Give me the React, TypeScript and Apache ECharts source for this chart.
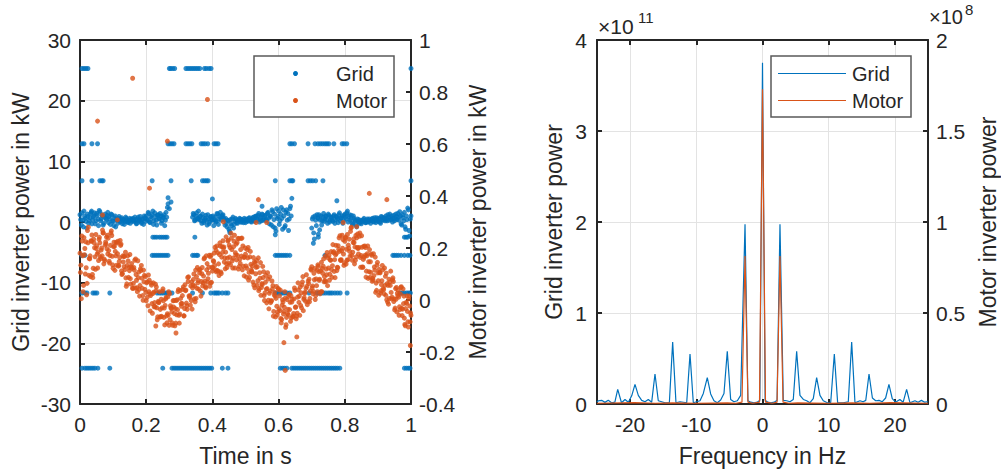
import React, { useEffect, useRef } from "react";
import * as echarts from "echarts";

// ---------------- data: left plot (time domain) ----------------
const TIME_STEP = 0.004; // s, spacing of each interleaved sample set
const timeTicks = [0, 0.2, 0.4, 0.6, 0.8, 1];

// Motor inverter power in kW; three interleaved sample sets
// set A at t = i*TIME_STEP, set B at t = (i+1/3)*TIME_STEP, set C at t = (i+2/3)*TIME_STEP
const motorPowerA = [
  0.18, 0.005, 0.17, 0.24, 0.10, 0.02, 0.22, 0.16, 0.09, 0.25,
  0.122, 0.201, 0.252, 0.177, 0.152, 0.22, 0.192, 0.269, 0.139, 0.211,
  0.242, 0.177, 0.149, 0.21, 0.248, 0.122, 0.206, 0.17, 0.219, 0.13,
  0.163, 0.215, 0.102, 0.167, 0.117, 0.053, 0.17, 0.125, 0.082, 0.14,
  0.045, 0.115, 0.158, 0.047, 0.086, 0.015, 0.113, 0.045, 0.115, 0.041,
  -0.003, 0.07, 0.032, -0.042, 0.057, 0.025, -0.026, 0.061, -0.03, -0.005,
  0.032, -0.065, -0.03, -0.003, -0.096, 0.01, -0.053, 0.032, -0.076, -0.03,
  -0.097, -0.002, -0.033, -0.057, 0.032, -0.089, 0.006, -0.013, 0.05, -0.033,
  0.038, -0.036, 0.089, 0.016, -0.002, 0.047, 0.1, -0.007, 0.09, 0.066,
  0.116, 0.034, 0.101, 0.066, 0.162, 0.047, 0.14, 0.103, 0.053, 0.172,
  0.111, 0.148, 0.203, 0.108, 0.182, 0.094, 0.207, 0.165, 0.228, 0.146,
  0.184, 0.125, 0.23, 0.165, 0.257, 0.151, 0.205, 0.123, 0.215, 0.171,
  0.236, 0.141, 0.169, 0.208, 0.093, 0.176, 0.122, 0.202, 0.087, 0.137,
  0.107, 0.163, 0.047, 0.126, 0.128, 0.036, 0.084, 0.048, 0.129, 0.017,
  0.068, -0.011, 0.08, 0.026, -0.01, 0.073, -0.062, 0.029, 0.006, -0.057,
  0.04, -0.041, -0.088, 0.001, -0.044, 0.007, -0.067, -0.036, 0.021, -0.082,
  -0.008, -0.062, 0.046, -0.027, -0.051, 0.039, -0.059, 0.028, 0.07, 0.003,
  0.03, 0.097, -0.007, 0.08, 0.035, 0.128, 0.024, 0.078, 0.017, 0.115,
  0.13, 0.08, 0.032, 0.121, 0.158, 0.074, 0.119, 0.055, 0.171, 0.154,
  0.117, 0.213, 0.11, 0.174, 0.113, 0.209, 0.187, 0.152, 0.249, 0.177,
  0.226, 0.138, 0.252, 0.199, 0.169, 0.28, 0.184, 0.221, 0.153, 0.239,
  0.198, 0.245, 0.126, 0.203, 0.156, 0.208, 0.088, 0.178, 0.147, 0.087,
  0.177, 0.083, 0.094, 0.165, 0.037, 0.104, 0.118, 0.027, 0.074, 0.044,
  0.123, 0.018, 0.063, -0.016, 0.069, 0.029, 0.078, -0.006, -0.031, 0.048,
  0.017, -0.059, 0.023, -0.032, 0.043, -0.07, -0.033, 0.016, -0.104, -0.023,
  -0.059,
];
const motorPowerB = [
  0.106, 0.246, 0.032, 0.174, 0.224, 0.064, 0.28, 0.158, 0.228, 0.098,
  0.234, 0.166, 0.198, 0.123, 0.233, 0.166, 0.2, 0.258, 0.157, 0.223,
  0.197, 0.238, 0.142, 0.258, 0.168, 0.205, 0.114, 0.222, 0.178, 0.133,
  0.229, 0.112, 0.17, 0.128, 0.184, 0.062, 0.15, 0.113, 0.061, 0.122,
  0.064, 0.153, 0.098, 0.032, 0.107, 0.056, 0.133, 0.017, 0.07, 0.09,
  0.066, -0.022, 0.076, 0.017, -0.014, 0.066, -0.01, 0.035, -0.076, -0.01,
  -0.065, 0.003, 0.034, -0.067, -0.021, -0.061, 0.012, -0.097, -0.022, -0.046,
  -0.003, -0.052, -0.089, 0.001, 0.04, -0.054, -0.014, 0.017, -0.061, 0.059,
  -0.012, 0.087, 0.016, -0.02, 0.07, 0.058, 0.004, 0.115, 0.045, 0.075,
  0.104, 0.015, 0.125, 0.092, 0.072, 0.17, 0.069, 0.126, 0.166, 0.068,
  0.124, 0.18, 0.116, 0.208, 0.111, 0.175, 0.108, 0.205, 0.199, 0.162,
  0.243, 0.161, 0.142, 0.202, 0.238, 0.123, 0.226, 0.182, 0.154, 0.237,
  0.129, 0.194, 0.238, 0.13, 0.165, 0.131, 0.194, 0.077, 0.166, 0.117,
  0.131, 0.057, 0.142, 0.152, 0.074, 0.044, 0.144, 0.063, 0.086, -0.002,
  0.095, 0.044, -0.001, 0.089, -0.004, 0.043, -0.044, 0.015, 0.052, -0.046,
  -0.034, 0.038, -0.075, -0.008, -0.028, -0.105, 0.002, -0.057, -0.037, 0.017,
  0.003, -0.052, 0.037, -0.072, 0.011, -0.009, 0.05, -0.03, 0.09, 0.009,
  -0.005, 0.052, 0.072, -0.007, 0.119, 0.047, 0.033, 0.121, 0.081, 0.032,
  0.109, 0.024, 0.145, 0.103, 0.07, 0.169, 0.097, 0.162, 0.076, 0.153,
  0.087, 0.182, 0.155, 0.21, 0.126, 0.195, 0.247, 0.155, 0.199, 0.133,
  0.239, 0.195, 0.155, 0.234, 0.264, 0.171, 0.221, 0.139, 0.248, 0.202,
  0.177, 0.258, 0.171, 0.127, 0.206, 0.172, 0.111, 0.208, 0.109, 0.147,
  0.172, 0.077, 0.127, 0.029, 0.134, 0.074, 0.106, 0.035, 0.133, 0.04,
  0.056, 0.103, -0.008, 0.08, 0.056, 0.004, 0.085, 0.004, 0.044, -0.046,
  0.037, -0.026, 0.048, -0.06, -0.014, -0.094, -0.009, -0.044, 0.004, -0.084,
];
const motorPowerC = [
  0.134, 0.227, 0.056, 0.198, 0.124, 0.267, 0.095, 0.17, 0.226, 0.086,
  0.22, 0.118, 0.209, 0.183, 0.241, 0.159, 0.17, 0.258, 0.151, 0.216,
  0.249, 0.19, 0.171, 0.266, 0.135, 0.222, 0.187, 0.134, 0.226, 0.148,
  0.21, 0.098, 0.146, 0.168, 0.085, 0.133, 0.087, 0.175, 0.127, 0.045,
  0.125, 0.046, 0.076, 0.151, 0.041, 0.12, 0.084, -0.001, 0.095, 0.029,
  0.01, 0.096, 0.023, 0.065, -0.051, 0.03, -0.026, 0.05, -0.065, -0.009,
  -0.036, -0.063, 0.043, -0.031, 0.004, -0.088, -0.058, 0.024, -0.031, -0.088,
  -0.027, -0.099, -0.002, -0.037, -0.059, 0.036, -0.024, 0.041, -0.061, 0.036,
  -0.022, 0.071, 0.01, 0.054, -0.035, 0.079, 0.054, 0.006, 0.125, 0.042,
  0.117, 0.071, 0.054, 0.158, 0.052, 0.116, 0.082, 0.172, 0.066, 0.126,
  0.151, 0.133, 0.192, 0.113, 0.139, 0.22, 0.102, 0.183, 0.204, 0.12,
  0.139, 0.227, 0.211, 0.136, 0.194, 0.161, 0.249, 0.173, 0.221, 0.119,
  0.157, 0.237, 0.116, 0.164, 0.2, 0.088, 0.162, 0.106, 0.187, 0.11,
  0.069, 0.146, 0.101, 0.057, 0.162, 0.105, 0.018, 0.059, 0.109, 0.027,
  0.042, 0.105, -0.034, 0.034, -0.003, 0.055, 0.02, -0.065, -0.024, 0.045,
  0.016, -0.071, -0.02, -0.054, 0.032, -0.095, -0.052, 0.014, -0.009, -0.069,
  -0.065, 0.004, -0.028, -0.062, 0.066, 0.015, -0.021, 0.058, -0.041, 0.025,
  0.045, -0.018, 0.063, 0.006, 0.115, 0.054, 0.103, 0.002, 0.055, 0.135,
  0.076, 0.112, 0.032, 0.13, 0.09, 0.07, 0.183, 0.123, 0.099, 0.186,
  0.132, 0.186, 0.086, 0.179, 0.124, 0.239, 0.154, 0.189, 0.232, 0.143,
  0.241, 0.153, 0.211, 0.187, 0.277, 0.153, 0.235, 0.204, 0.166, 0.254,
  0.202, 0.164, 0.247, 0.126, 0.165, 0.202, 0.17, 0.083, 0.194, 0.106,
  0.072, 0.178, 0.115, 0.065, 0.145, 0.018, 0.104, 0.059, 0.116, 0.024,
  0.091, 0.001, 0.056, 0.006, 0.111, 0.011, 0.071, -0.038, 0.003, 0.026,
  0.011, -0.037, 0.051, -0.035, 0.015, -0.099, -0.013, -0.084, 0.015, -0.05,
];

// Isolated motor samples [time s, kW]
const motorOutliers = [
  [0.053, 0.688], [0.159, 0.853], [0.264, 0.611], [0.385, 0.771],
  [0.21, 0.43], [0.068, 0.327], [0.113, 0.308], [0.433, 0.301],
  [0.539, 0.386], [0.532, 0.298], [0.564, 0.298], [0.795, 0.298],
  [0.836, 0.282], [0.874, 0.41], [0.927, 0.386],
  [0.616, -0.164], [0.62, -0.271], [0.29, -0.127], [0.229, -0.1],
  [0.655, -0.142], [0.998, -0.175],
];

// Grid inverter power in kW near zero; two interleaved sets (A at i*TIME_STEP, B at (i+1/2)*TIME_STEP)
// null = that sample sits on one of the discrete levels below
const gridPowerA = [
  1.2, -0.5, 0.3, 1.8, 0.6, -1.0, 0.9, 0.2, 1.4, -0.3,
  0.8, 1.5, 0.2, 1.1, -0.6, 1.7, 0.5, 1.0, -0.2, 1.3,
  0.4, 1.6, 0.9, -0.4, 1.2, 0.1, 0.7, -0.8, 0.3, 0.6,
  0.2, 0.5, -0.3, 0.4, 0.1, 0.6, 0.0, 0.3, -0.2, 0.5,
  0.6, 0.1, 0.4, -0.2, 0.8, 0.3, 0.0, 0.5, -0.4, 0.7,
  1.0, 0.3, 1.4, -0.1, 0.6, 1.8, 0.2, 0.9, -0.5, 1.2,
  0.5, 1.0, 0.2, 0.7, -0.6, 1.6, 2.4, null, null, null,
  null, null, null, null, null, null, null, null, null, null,
  null, null, null, null, null, 0.8, 1.2, 0.3, 1.5, 0.6,
  0.4, 1.0, -0.2, 0.7, 0.2, 1.1, -0.5, 0.5, 0.0, 0.9,
  0.3, -0.6, 0.8, 0.1, 1.3, 0.5, 1.6, 0.9, 1.2, 0.4,
  0.6, -0.8, 0.2, -1.5, -0.3, 0.5, -1.0, 0.1, 0.4, -0.2,
  0.2, 0.5, 0.0, 0.3, 0.6, -0.1, 0.4, 0.2, 0.7, 0.1,
  0.4, 0.8, 0.1, 1.0, 0.3, 1.4, 0.6, 0.2, 1.2, 0.5,
  1.1, 0.4, 1.6, -0.3, 0.9, 2.0, -0.8, 1.3, -1.5, 0.6,
  1.8, 0.2, 2.4, -1.2, 1.0, -0.6, 2.0, 1.4, 0.5, 2.6,
  null, null, null, null, null, null, null, null, null, null,
  null, null, null, null, null, -1.0, 0.8, -2.8, 0.3, 1.2,
  0.6, -1.3, 1.0, 0.2, 1.4, 0.5, 0.9, -0.2, 1.1, 0.3,
  0.7, 0.1, 1.2, 0.4, 0.8, -0.1, 1.5, 0.6, 1.0, 0.2,
  1.3, 0.5, 1.8, 0.9, 0.3, 1.1, -0.4, 0.6, 0.2, -0.8,
  0.1, -0.2, 0.3, 0.0, 0.4, 0.2, -0.1, 0.5, 0.1, 0.3,
  0.2, 0.6, 0.0, 0.4, 0.7, 0.1, 0.5, -0.2, 0.8, 0.3,
  0.6, 1.0, 0.2, 0.8, 1.3, 0.4, 0.0, 1.1, 0.5, 0.9,
  1.4, 0.3, 1.0, -0.5, 0.7, 1.6, -1.2, 0.4, 2.0, -2.3,
  1.0,
];
const gridPowerB = [
  0.4, 1.5, -0.8, 0.9, 0.1, 1.3, -0.2, 0.7, 1.6, 0.3,
  1.0, -0.3, 1.4, 0.5, 1.9, 0.2, 1.2, -0.5, 0.8, 0.6,
  1.1, -0.1, 0.5, 1.3, 0.2, -0.6, 1.0, 0.4, -0.2, 0.9,
  0.0, 0.7, 0.3, -0.4, 0.8, 0.2, -0.1, 0.6, 0.4, 0.1,
  0.3, 0.8, -0.3, 0.5, 0.2, 0.9, -0.2, 0.4, 1.0, 0.1,
  0.5, 1.6, 0.0, 0.9, 1.2, -0.4, 1.5, 0.3, 1.1, 0.6,
  1.4, -0.2, 0.9, 1.2, 0.3, 0.8, 3.0, null, null, null,
  null, null, null, null, null, null, null, null, null, null,
  null, null, null, null, null, 1.4, 0.2, 1.0, 0.5, 1.8,
  0.9, 0.2, 1.3, -0.1, 0.6, 0.3, 1.2, -0.3, 0.8, 0.4,
  1.0, 0.4, 0.0, 1.4, -0.4, 0.9, 0.3, 1.1, 0.6, -0.5,
  -0.2, 0.3, -1.2, 0.4, -0.6, 0.8, -0.4, 0.6, -0.1, 0.3,
  0.6, 0.0, 0.4, -0.1, 0.2, 0.5, 0.1, 0.6, 0.3, 0.0,
  0.7, 0.2, 0.9, 0.5, 1.1, 0.0, 0.8, 1.3, 0.3, 0.9,
  0.2, 1.4, 0.6, 1.0, -0.5, 1.7, 0.4, -1.0, 2.2, 0.9,
  -0.4, 1.3, 0.6, 2.0, -0.9, 1.6, 0.3, -1.4, 2.2, 1.0,
  null, null, null, null, null, null, null, null, null, null,
  null, null, null, null, null, 0.5, -1.8, 1.0, -0.6, 0.7,
  1.2, 0.3, -0.5, 0.8, 0.1, 1.0, 0.4, 1.3, 0.0, 0.8,
  0.3, 1.0, -0.2, 0.9, 0.5, 1.2, 0.2, 0.7, -0.2, 1.1,
  0.8, 1.5, 0.0, 1.2, 0.6, -0.2, 1.0, 0.3, -0.5, 0.5,
  0.4, 0.0, -0.3, 0.2, 0.6, -0.1, 0.3, 0.0, 0.5, -0.2,
  0.5, 0.1, 0.7, -0.1, 0.3, 0.6, 0.0, 0.9, 0.4, 0.7,
  0.2, 0.5, 1.2, 0.3, 0.7, 1.0, 0.6, 0.2, 1.3, 0.4,
  0.8, 1.7, -0.3, 1.2, 0.2, -0.8, 1.0, 2.3, -1.4, 0.5,
];

// Discrete grid power levels (kW) and the times (s) at which they occur
const gridLevels = [25.3, 12.9, 6.8, -2.5, -5.5, -11.7, -24.1];
const gridLevelTimes = [
  [0.006, 0.012, 0.018, 0.024, 0.27, 0.274, 0.28, 0.286, 0.32, 0.326, 0.332, 0.338, 0.344, 0.35, 0.356, 0.362, 0.376, 0.382, 0.39, 0.396, 1.0],
  [0.006, 0.012, 0.036, 0.053, 0.266, 0.272, 0.278, 0.284, 0.32, 0.326, 0.332, 0.338, 0.366, 0.372, 0.378, 0.386, 0.405, 0.411, 0.417,
    0.634, 0.64, 0.648, 0.689, 0.71, 0.719, 0.726, 0.733, 0.74, 0.746, 0.752, 0.767, 0.792, 0.798, 0.806],
  [0.006, 0.036, 0.06, 0.066, 0.07, 0.218, 0.275, 0.336, 0.37, 0.376, 0.382, 0.387, 0.59, 0.634, 0.64, 0.643,
    0.689, 0.696, 0.703, 0.712, 0.734, 1.0],
  [0.22, 0.226, 0.232, 0.24, 0.246, 0.252, 0.258, 0.263, 0.347, 0.72, 0.98, 0.985, 0.99],
  [0.005, 0.015, 0.218, 0.224, 0.23, 0.236, 0.242, 0.248, 0.254, 0.26, 0.266, 0.34, 0.346, 0.352, 0.356,
    0.59, 0.596, 0.602, 0.608, 0.614, 0.62, 0.626, 0.634, 0.74, 0.945, 0.95, 0.956, 0.962, 0.97, 0.98, 0.99, 0.997],
  [0.006, 0.015, 0.021, 0.039, 0.045, 0.051, 0.09, 0.233, 0.24, 0.246, 0.252, 0.258, 0.264, 0.27, 0.278,
    0.34, 0.37, 0.395, 0.405, 0.41, 0.415, 0.42, 0.43, 0.44, 0.447, 0.59, 0.596, 0.602, 0.608, 0.614, 0.62, 0.626, 0.634,
    0.692, 0.716, 0.722, 0.728, 0.735, 0.742, 0.75, 0.756, 0.762, 0.77, 0.778, 0.786, 0.807, 0.967, 0.974, 0.98, 0.987, 0.993, 0.998],
  [0.006, 0.015, 0.021, 0.027, 0.033, 0.039, 0.045, 0.054, 0.09, 0.25, 0.278, 0.284, 0.29, 0.296, 0.302, 0.308, 0.314,
    0.32, 0.326, 0.332, 0.338, 0.344, 0.35, 0.356, 0.362, 0.368, 0.374, 0.38, 0.386, 0.392, 0.398, 0.43, 0.447,
    0.605, 0.612, 0.618, 0.625, 0.64, 0.646, 0.652, 0.658, 0.664, 0.67, 0.676, 0.682, 0.688, 0.694, 0.7, 0.706,
    0.712, 0.718, 0.724, 0.73, 0.736, 0.742, 0.748, 0.754, 0.76, 0.766, 0.772, 0.778, 0.785, 0.98, 0.986, 0.992, 0.997],
];

// Other isolated grid samples [time s, kW]
const gridOutliers = [
  [0.266, 4.0], [0.275, 3.3], [0.27, 2.2], [0.4, 3.8], [0.64, 3.9], [0.776, 3.5],
  [0.55, 2.6], [0.705, -3.5], [0.72, -2.0], [0.59, -2.1], [0.453, -1.8], [0.035, 1.8],
];

// ---------------- data: right plot (frequency domain) ----------------
const gridFreq = [
  -25, -24.8, -24.3, -23.8, -23.3, -22.8, -22.3, -21.87, -21.3, -20.77, -20.27, -19.76, -19.26, -18.76, -18.25,
  -17.75, -17.25, -16.74, -16.24, -15.74, -15.23, -14.73, -14.07, -13.57, -13.07, -12.46, -11.45, -10.95, -10.45,
  -9.44, -8.94, -8.34, -7.83, -7.33, -6.83, -6.32, -5.82, -5.32, -4.81, -4.31, -3.8, -3.3, -2.64, -2.2, -1.78,
  -1.28, -0.78, -0.4, 0, 0.4, 0.78, 1.28, 1.78, 2.2, 2.64, 3.14, 3.64, 4.15, 4.65, 5.16, 5.66, 6.17, 6.67, 7.17,
  7.67, 8.18, 8.68, 9.18, 9.79, 10.3, 10.85, 11.35, 12.2, 12.96, 13.47, 13.97, 14.73, 15.2, 15.6, 16.09, 16.6,
  17.1, 17.6, 18.1, 18.6, 19.1, 19.6, 20.1, 20.75, 21.25, 21.77, 22.27, 23.03, 23.5, 24.0, 24.5, 25,
];
const gridPsd = [
  0.02e11, 0.036e11, 0.04e11, 0.018e11, 0.04e11, 0.014e11, 0.02e11, 0.16e11, 0.014e11, 0.05e11, 0.02e11, 0.09e11,
  0.215e11, 0.095e11, 0.04e11, 0.025e11, 0.05e11, 0.02e11, 0.33e11, 0.036e11, 0.025e11, 0.014e11, 0.014e11,
  0.68e11, 0.014e11, 0.025e11, 0.014e11, 0.55e11, 0.014e11, 0.036e11, 0.116e11, 0.29e11, 0.11e11, 0.036e11,
  0.014e11, 0.043e11, 0.116e11, 0.58e11, 0.05e11, 0.025e11, 0.036e11, 0.095e11, 1.975e11, 0.036e11, 0.02e11,
  0.014e11, 0.02e11, 0.04e11, 3.75e11, 0.04e11, 0.02e11, 0.014e11, 0.02e11, 0.04e11, 1.975e11, 0.04e11,
  0.036e11, 0.025e11, 0.05e11, 0.58e11, 0.095e11, 0.05e11, 0.036e11, 0.014e11, 0.06e11, 0.29e11, 0.095e11,
  0.036e11, 0.014e11, 0.014e11, 0.55e11, 0.014e11, 0.014e11, 0.025e11, 0.68e11, 0.014e11, 0.036e11, 0.025e11,
  0.04e11, 0.33e11, 0.066e11, 0.036e11, 0.04e11, 0.025e11, 0.066e11, 0.215e11, 0.06e11, 0.02e11, 0.05e11,
  0.02e11, 0.16e11, 0.014e11, 0.036e11, 0.02e11, 0.04e11, 0.02e11, 0.025e11,
];
const motorFreq = [-25, -19.3, -16.2, -13.6, -10, -5.3, -4, -3.1, -2.64, -2.2, -1.5, -0.45, 0, 0.45, 1.5, 2.2, 2.64, 3.1, 4, 5.3, 10, 13.6, 16.2, 19.3, 25];
const motorPsd = [
  0.004e8, 0.008e8, 0.004e8, 0.006e8, 0.004e8, 0.006e8, 0.004e8, 0.01e8, 0.813e8, 0.01e8, 0.004e8, 0.01e8, 1.73e8,
  0.01e8, 0.004e8, 0.01e8, 0.813e8, 0.01e8, 0.004e8, 0.006e8, 0.004e8, 0.006e8, 0.004e8, 0.008e8, 0.004e8,
];

const seriesNames = ["Grid", "Motor"];

// ---------------- styling ----------------
const FONT = "'Liberation Sans', Arial, Helvetica, sans-serif";
const BLUE = "#0072BD";
const ORANGE = "#D95319";
const INK = "#262626";
const GRIDLINE = "#e3e3e3";

function axisBase(extra: any) {
  return {
    type: "value",
    axisLine: { show: true, onZero: false, lineStyle: { color: INK, width: 2 } },
    axisTick: { show: true, inside: true, length: 5, lineStyle: { color: INK, width: 2 } },
    splitLine: { show: false },
    nameLocation: "middle",
    nameMoveOverlap: false,
    nameTextStyle: { color: INK, fontSize: 23, fontFamily: FONT },
    ...extra,
  };
}
function labels(margin: number, extra?: any) {
  return { show: true, color: INK, fontSize: 21, fontFamily: FONT, margin, ...(extra || {}) };
}
const split = { show: true, lineStyle: { color: GRIDLINE, width: 1 } };

export default function App() {
  const ref = useRef<HTMLDivElement>(null);
  useEffect(() => {
    document.body.style.margin = "0";
    const chart = echarts.init(ref.current!, null, { renderer: "svg" });

    const gridData: any[] = [];
    gridPowerA.forEach((v, i) => {
      if (v !== null) gridData.push([i * TIME_STEP, v]);
    });
    gridPowerB.forEach((v, i) => {
      if (v !== null) gridData.push([(i + 0.5) * TIME_STEP, v]);
    });
    gridLevels.forEach((lvl, k) => gridLevelTimes[k].forEach((t) => gridData.push([t, lvl])));
    gridOutliers.forEach((p) => gridData.push(p));

    const motorData: any[] = [];
    motorPowerA.forEach((v, i) => motorData.push([i * TIME_STEP, v]));
    motorPowerB.forEach((v, i) => motorData.push([(i + 1 / 3) * TIME_STEP, v]));
    motorPowerC.forEach((v, i) => motorData.push([(i + 2 / 3) * TIME_STEP, v]));
    motorOutliers.forEach((p) => motorData.push(p));

    const gridSpec = gridFreq.map((f, i) => [f, gridPsd[i]]);
    const motorSpec = motorFreq.map((f, i) => [f, motorPsd[i]]);

    const txt = (text: string, x: number, y: number, size: number) => ({
      type: "text",
      x,
      y,
      z: 100,
      style: { text, fill: INK, fontSize: size, fontFamily: FONT, textAlign: "left", textVerticalAlign: "middle" },
    });

    chart.setOption({
      animation: false,
      backgroundColor: "#ffffff",
      grid: [
        { left: 80, top: 40, width: 331, height: 364, outerBoundsMode: "none", containLabel: false },
        { left: 597, top: 40, width: 331, height: 364, outerBoundsMode: "none", containLabel: false },
      ],
      xAxis: [
        axisBase({
          gridIndex: 0, position: "bottom", min: timeTicks[0], max: timeTicks[timeTicks.length - 1], interval: 0.2,
          name: "Time in s", nameGap: 40, axisLabel: labels(10), splitLine: split,
        }),
        axisBase({
          gridIndex: 0, position: "top", min: 0, max: 1, interval: 0.2, axisLabel: { show: false },
        }),
        axisBase({
          gridIndex: 1, position: "bottom", min: -25, max: 25, splitNumber: 5,
          name: "Frequency in Hz", nameGap: 40,
          axisLabel: labels(10, { showMinLabel: false, showMaxLabel: false }), splitLine: split,
        }),
        axisBase({
          gridIndex: 1, position: "top", min: -25, max: 25, splitNumber: 5, axisLabel: { show: false },
        }),
      ],
      yAxis: [
        axisBase({
          gridIndex: 0, position: "left", min: -30, max: 30, interval: 10,
          name: "Grid inverter power in kW", nameGap: 48, axisLabel: labels(9), splitLine: split,
        }),
        axisBase({
          gridIndex: 0, position: "right", min: -0.4, max: 1, interval: 0.2,
          name: "Motor inverter power in kW", nameGap: 55, axisLabel: labels(8),
        }),
        axisBase({
          gridIndex: 1, position: "left", min: 0, max: 4e11, interval: 1e11,
          name: "Grid inverter power", nameGap: 32,
          axisLabel: labels(10, { formatter: (v: number) => String(Math.round(v / 1e10) / 10) }), splitLine: split,
        }),
        axisBase({
          gridIndex: 1, position: "right", min: 0, max: 2e8, interval: 0.5e8,
          name: "Motor inverter power", nameGap: 48,
          axisLabel: labels(8, { formatter: (v: number) => String(Math.round(v / 1e7) / 10) }),
        }),
      ],
      series: [
        {
          name: seriesNames[0], type: "scatter", xAxisIndex: 0, yAxisIndex: 0, data: gridData,
          symbol: "circle", symbolSize: 5, itemStyle: { color: BLUE }, silent: true, large: false,
        },
        {
          name: seriesNames[1], type: "scatter", xAxisIndex: 0, yAxisIndex: 1, data: motorData,
          symbol: "circle", symbolSize: 5, itemStyle: { color: ORANGE }, silent: true, large: false,
        },
        {
          name: seriesNames[0], type: "line", xAxisIndex: 2, yAxisIndex: 2, data: gridSpec,
          showSymbol: false, lineStyle: { color: BLUE, width: 1.2 }, itemStyle: { color: BLUE }, silent: true,
        },
        {
          name: seriesNames[1], type: "line", xAxisIndex: 2, yAxisIndex: 3, data: motorSpec,
          showSymbol: false, lineStyle: { color: ORANGE, width: 1.2 }, itemStyle: { color: ORANGE }, silent: true,
        },
      ],
      graphic: [
        // left legend
        { type: "rect", z: 99, shape: { x: 254, y: 56, width: 140, height: 61 }, style: { fill: "#fff", stroke: "#5a5a5a", lineWidth: 1.5 } },
        { type: "circle", z: 100, shape: { cx: 295.5, cy: 73.5, r: 2.5 }, style: { fill: BLUE } },
        { type: "circle", z: 100, shape: { cx: 295.5, cy: 100.5, r: 2.5 }, style: { fill: ORANGE } },
        txt(seriesNames[0], 336, 74, 20),
        txt(seriesNames[1], 336, 101, 20),
        // right legend
        { type: "rect", z: 99, shape: { x: 771, y: 56, width: 140, height: 61 }, style: { fill: "#fff", stroke: "#5a5a5a", lineWidth: 1.5 } },
        { type: "line", z: 100, shape: { x1: 778, y1: 73.5, x2: 846, y2: 73.5 }, style: { stroke: BLUE, lineWidth: 1.2 } },
        { type: "line", z: 100, shape: { x1: 778, y1: 100.5, x2: 846, y2: 100.5 }, style: { stroke: ORANGE, lineWidth: 1.2 } },
        txt(seriesNames[0], 852, 74, 20),
        txt(seriesNames[1], 852, 101, 20),
        // exponent labels
        txt("×10", 598, 26, 21),
        txt("11", 638, 17, 15),
        txt("×10", 929, 17, 20),
        txt("8", 965, 9, 15),
      ],
    });
    return () => chart.dispose();
  }, []);
  return <div ref={ref} style={{ position: "fixed", left: 0, top: 0, width: 1001, height: 470 }} />;
}
